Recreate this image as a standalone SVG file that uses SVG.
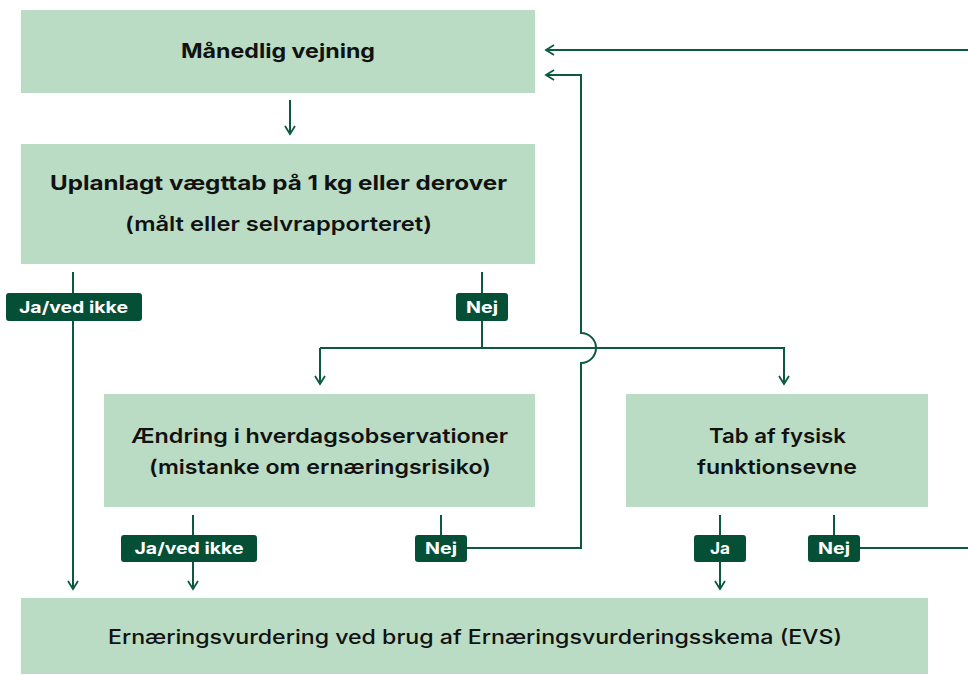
<svg xmlns="http://www.w3.org/2000/svg" width="968" height="675" viewBox="0 0 968 675">
<defs>
<style>
.box{fill:#badcc4}
.t{font-family:Inter,"Open Sans","Liberation Sans",sans-serif;fill:#111;text-anchor:middle}
.b{font-size:20px;font-weight:700}
.s{font-size:20px;font-weight:600}
.m{font-size:19.5px;font-weight:500}
.ln{fill:none;stroke:#0b5a3e;stroke-width:2}
.lab{fill:#064f37}
.lt{font-family:Inter,"Open Sans","Liberation Sans",sans-serif;font-size:16px;font-weight:700;fill:#fff;text-anchor:middle}
</style>
<marker id="ah" viewBox="0 0 12 12" refX="10" refY="6" markerWidth="12" markerHeight="12" markerUnits="userSpaceOnUse" orient="auto">
<path d="M2,1 L10,6 L2,11" fill="none" stroke="#0b5a3e" stroke-width="1.8"/>
</marker>
</defs>
<rect width="968" height="675" fill="#fff"/>
<g id="n1"><rect class="box" x="21" y="10" width="514" height="83"/><text class="t b" x="278" y="58" textLength="194" lengthAdjust="spacingAndGlyphs">Månedlig vejning</text></g>
<g id="n2"><rect class="box" x="21" y="144" width="514" height="120"/><text class="t b" x="278.5" y="190" textLength="457" lengthAdjust="spacingAndGlyphs">Uplanlagt vægttab på 1 kg eller derover</text><text class="t s" x="278.5" y="231" textLength="307" lengthAdjust="spacingAndGlyphs">(målt eller selvrapporteret)</text></g>
<g id="n3"><rect class="box" x="104" y="394" width="431" height="113"/><text class="t s" x="319.5" y="443" textLength="377" lengthAdjust="spacingAndGlyphs">Ændring i hverdagsobservationer</text><text class="t s" x="320" y="474" textLength="342" lengthAdjust="spacingAndGlyphs">(mistanke om ernæringsrisiko)</text></g>
<g id="n4"><rect class="box" x="626" y="394" width="302" height="113"/><text class="t s" x="777.5" y="443" textLength="137" lengthAdjust="spacingAndGlyphs">Tab af fysisk</text><text class="t s" x="777" y="474" textLength="160" lengthAdjust="spacingAndGlyphs">funktionsevne</text></g>
<g id="n5"><rect class="box" x="21" y="598" width="907" height="76"/><text class="t m" x="475" y="644" textLength="734" lengthAdjust="spacingAndGlyphs">Ernæringsvurdering ved brug af Ernæringsvurderingsskema (EVS)</text></g>
<g id="connectors">
<path class="ln" d="M968,50 H546" marker-end="url(#ah)"/>
<path class="ln" d="M290,100 V134" marker-end="url(#ah)"/>
<path class="ln" d="M73,272 V589" marker-end="url(#ah)"/>
<path class="ln" d="M482,272 V348"/>
<path class="ln" d="M320,348 H784 V384" marker-end="url(#ah)"/>
<path class="ln" d="M320,348 V384" marker-end="url(#ah)"/>
<path class="ln" d="M441,548 H581 V363 A15,15 0 0 0 581,333 V75 H546" marker-end="url(#ah)"/>
<path class="ln" d="M193,515 V589" marker-end="url(#ah)"/>
<path class="ln" d="M441,515 V548"/>
<path class="ln" d="M720,515 V589" marker-end="url(#ah)"/>
<path class="ln" d="M834,515 V548 H968"/>
</g>
<g id="labels">
<rect class="lab" x="6" y="293" width="136" height="28" rx="3"/><text class="lt" x="73.5" y="313" textLength="109" lengthAdjust="spacingAndGlyphs">Ja/ved ikke</text>
<rect class="lab" x="456" y="293" width="52" height="28" rx="3"/><text class="lt" x="482" y="313" textLength="32" lengthAdjust="spacingAndGlyphs">Nej</text>
<rect class="lab" x="121" y="535" width="136" height="27" rx="3"/><text class="lt" x="189" y="554" textLength="109" lengthAdjust="spacingAndGlyphs">Ja/ved ikke</text>
<rect class="lab" x="415" y="535" width="52" height="27" rx="3"/><text class="lt" x="441" y="554" textLength="32" lengthAdjust="spacingAndGlyphs">Nej</text>
<rect class="lab" x="694" y="535" width="52" height="27" rx="3"/><text class="lt" x="720" y="554" textLength="20" lengthAdjust="spacingAndGlyphs">Ja</text>
<rect class="lab" x="808" y="535" width="52" height="27" rx="3"/><text class="lt" x="834" y="554" textLength="32" lengthAdjust="spacingAndGlyphs">Nej</text>
</g>
</svg>
